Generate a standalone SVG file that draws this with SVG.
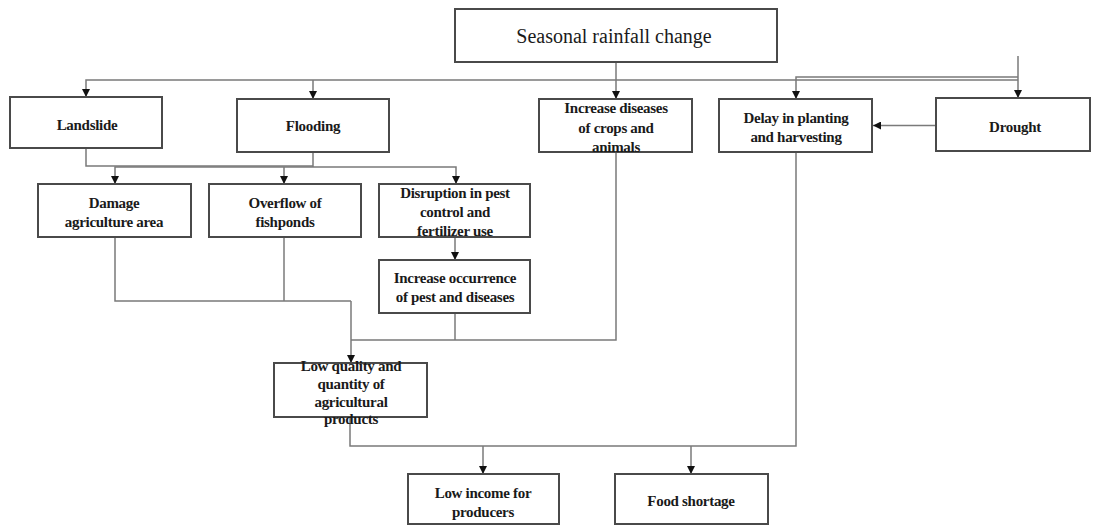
<svg xmlns="http://www.w3.org/2000/svg" width="1094" height="526" viewBox="0 0 1094 526">
  <defs>
    <marker id="arr" viewBox="0 0 8 8" refX="8" refY="4" markerWidth="8" markerHeight="8" markerUnits="userSpaceOnUse" orient="auto">
      <path d="M0,0 L8,4 L0,8 z" fill="#111"/>
    </marker>
    <style>
      .box { fill: #ffffff; stroke: #4a4a4a; stroke-width: 2; }
      .lbl { font-family: "Liberation Serif", "DejaVu Serif", serif; font-size: 15px; font-weight: bold; fill: #1a1a1a; text-anchor: middle; letter-spacing: -0.3px; }
      .title { font-family: "Liberation Serif", "DejaVu Serif", serif; font-size: 20px; fill: #1a1a1a; text-anchor: middle; }
      .con { fill: none; stroke: #7a7a7a; stroke-width: 1.5; }
      .arr { fill: none; stroke: #7a7a7a; stroke-width: 1.5; marker-end: url(#arr); }
    </style>
  </defs>
  <rect width="1094" height="526" fill="#ffffff"/>

  <g id="connectors">
    <path class="con" d="M616,62 V79"/>
    <path class="arr" d="M1018,80 H86 V97"/>
    <path class="arr" d="M313,80 V99"/>
    <path class="arr" d="M616,79 V99"/>
    <path class="arr" d="M1018,56 V98"/>
    <path class="arr" d="M1018,77 H796 V99"/>
    <path class="arr" d="M936,125.5 H873"/>
    <path class="con" d="M86,148 V166 H313"/>
    <path class="con" d="M313,152 V167"/>
    <path class="arr" d="M313,167 H115 V184"/>
    <path class="arr" d="M313,167 H456 V184"/>
    <path class="arr" d="M284,167 V184"/>
    <path class="arr" d="M455,237 V260"/>
    <path class="con" d="M115,237 V301 H351"/>
    <path class="con" d="M284,237 V301"/>
    <path class="arr" d="M351,301 V363"/>
    <path class="con" d="M455,313 V340"/>
    <path class="con" d="M616,152 V340 H351"/>
    <path class="con" d="M350,417 V446 H796 V152"/>
    <path class="arr" d="M483,446 V474"/>
    <path class="arr" d="M691,446 V474"/>
  </g>

  <g id="seasonal">
    <rect class="box" x="455" y="9" width="322" height="53"/>
    <text class="title" x="614" y="43">Seasonal rainfall change</text>
  </g>
  <g id="landslide">
    <rect class="box" x="10" y="97" width="152" height="51"/>
    <text class="lbl" x="87" y="130">Landslide</text>
  </g>
  <g id="flooding">
    <rect class="box" x="237" y="99" width="152" height="53"/>
    <text class="lbl" x="313" y="131">Flooding</text>
  </g>
  <g id="diseases">
    <rect class="box" x="539" y="99" width="153" height="53"/>
    <text class="lbl" x="616" y="113">Increase diseases</text>
    <text class="lbl" x="616" y="133">of crops and</text>
    <text class="lbl" x="616" y="152">animals</text>
  </g>
  <g id="delay">
    <rect class="box" x="719" y="99" width="153" height="53"/>
    <text class="lbl" x="796" y="123">Delay in planting</text>
    <text class="lbl" x="796" y="142">and harvesting</text>
  </g>
  <g id="drought">
    <rect class="box" x="936" y="98" width="154" height="53"/>
    <text class="lbl" x="1015" y="132">Drought</text>
  </g>
  <g id="damage">
    <rect class="box" x="38" y="184" width="153" height="53"/>
    <text class="lbl" x="114" y="208">Damage</text>
    <text class="lbl" x="114" y="227">agriculture area</text>
  </g>
  <g id="overflow">
    <rect class="box" x="209" y="184" width="152" height="53"/>
    <text class="lbl" x="285" y="208">Overflow of</text>
    <text class="lbl" x="285" y="227">fishponds</text>
  </g>
  <g id="disruption">
    <rect class="box" x="379" y="184" width="151" height="53"/>
    <text class="lbl" x="455" y="198">Disruption in pest</text>
    <text class="lbl" x="455" y="217">control and</text>
    <text class="lbl" x="455" y="236">fertilizer use</text>
  </g>
  <g id="occurrence">
    <rect class="box" x="379" y="260" width="151" height="53"/>
    <text class="lbl" x="455" y="283">Increase occurrence</text>
    <text class="lbl" x="455" y="302">of pest and diseases</text>
  </g>
  <g id="lowquality">
    <rect class="box" x="274" y="363" width="153" height="54"/>
    <text class="lbl" x="351" y="371">Low quality and</text>
    <text class="lbl" x="351" y="389">quantity of</text>
    <text class="lbl" x="351" y="407">agricultural</text>
    <text class="lbl" x="351" y="424">products</text>
  </g>
  <g id="lowincome">
    <rect class="box" x="408" y="474" width="151" height="50"/>
    <text class="lbl" x="483" y="498">Low income for</text>
    <text class="lbl" x="483" y="517">producers</text>
  </g>
  <g id="foodshortage">
    <rect class="box" x="615" y="474" width="153" height="50"/>
    <text class="lbl" x="691" y="506">Food shortage</text>
  </g>
</svg>
